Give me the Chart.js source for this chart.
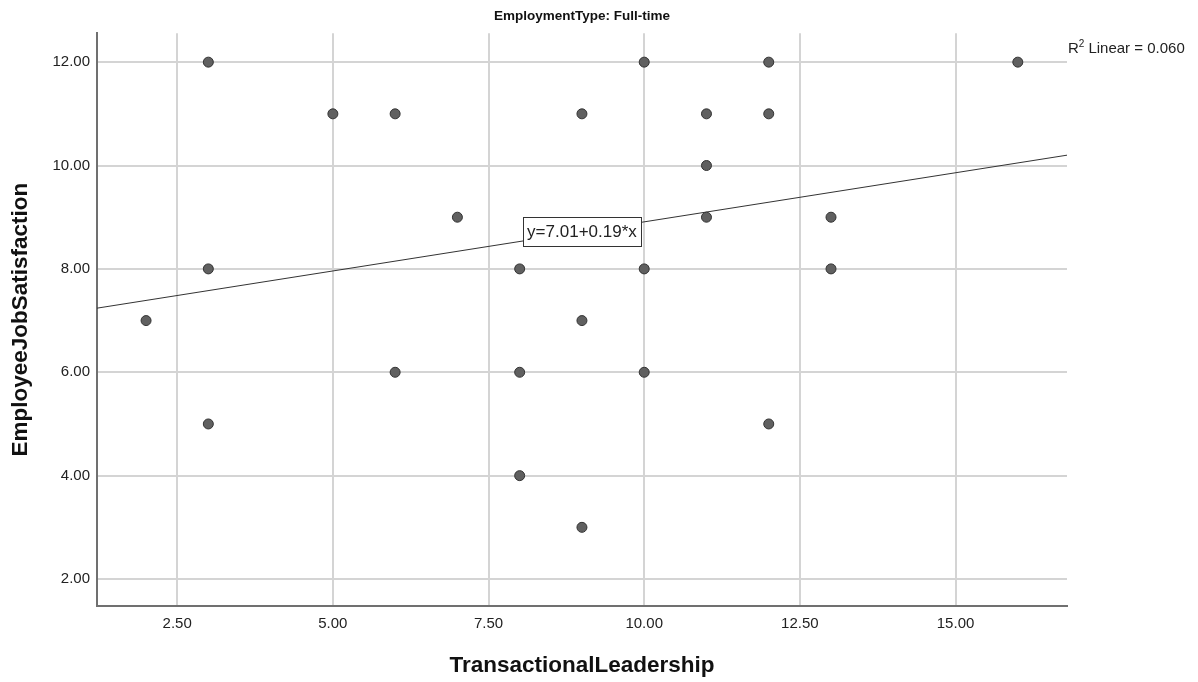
<!DOCTYPE html>
<html>
<head>
<meta charset="utf-8">
<script src="https://cdn.jsdelivr.net/npm/chart.js@4"></script>
<style>
  html, body { margin: 0; padding: 0; background: #fff; }
  #wrap { width: 1198px; height: 682px; }
</style>
</head>
<body>
<div id="wrap"><canvas id="scatter" width="1198" height="682"></canvas></div>
<script>
// leadership score (x) vs job satisfaction (y), full-time employees
const leadership = [3, 5, 6, 7, 3, 2, 3, 6, 8, 8, 8, 9, 9, 9, 10, 10, 10, 11, 11, 11, 12, 12, 12, 13, 13, 16];
const satisfaction = [12, 11, 11, 9, 8, 7, 5, 6, 8, 6, 4, 11, 7, 3, 12, 8, 6, 11, 10, 9, 12, 11, 5, 9, 8, 12];
const xTicks = [2.5, 5, 7.5, 10, 12.5, 15];
const yTicks = [2, 4, 6, 8, 10, 12];
const fitIntercept = 7.01;
const fitSlope = 0.19;
const rSquared = "0.060";
const xMin = 1.212, xMax = 16.79;
const yMin = 1.478, yMax = 12.56;

const points = leadership.map((x, i) => ({ x: x, y: satisfaction[i] }));
const fitLine = [xMin, xMax].map(x => ({ x: x, y: fitIntercept + fitSlope * x }));

const FONT = "'Liberation Sans', Arial, sans-serif";

// equation box on the fit line + R² label at the right
const annotations = {
  id: 'annotations',
  afterDatasetsDraw(chart) {
    const ctx = chart.ctx;
    const xs = chart.scales.x, ys = chart.scales.y;
    const ex = 9.0;
    const cx = xs.getPixelForValue(ex);
    const cy = ys.getPixelForValue(fitIntercept + fitSlope * ex);
    const label = "y=" + fitIntercept.toFixed(2) + "+" + fitSlope.toFixed(2) + "*x";
    ctx.save();
    ctx.font = "17px " + FONT;
    const w = Math.round(ctx.measureText(label).width + 8);
    const h = 29;
    const bx = Math.round(cx - w / 2) + 0.5, by = Math.round(cy - h / 2) + 0.5;
    ctx.fillStyle = "#fff";
    ctx.strokeStyle = "#333";
    ctx.lineWidth = 1;
    ctx.fillRect(bx, by, w, h);
    ctx.strokeRect(bx, by, w, h);
    ctx.fillStyle = "#222";
    ctx.textAlign = "center";
    ctx.textBaseline = "middle";
    ctx.fillText(label, cx, cy + 1);

    // R² Linear label
    const rx = chart.chartArea.right + 1;
    const base = 53;
    ctx.textAlign = "left";
    ctx.textBaseline = "alphabetic";
    ctx.font = "15px " + FONT;
    ctx.fillText("R", rx, base);
    let off = ctx.measureText("R").width;
    ctx.font = "10px " + FONT;
    ctx.fillText("2", rx + off, base - 6);
    off += ctx.measureText("2").width + 4;
    ctx.font = "15px " + FONT;
    ctx.fillText("Linear = " + rSquared, rx + off, base);
    ctx.restore();
  }
};

new Chart(document.getElementById("scatter"), {
  type: 'scatter',
  data: {
    datasets: [{
      type: 'line',
      data: fitLine,
      borderColor: '#333',
      borderWidth: 1,
      pointRadius: 0,
      fill: false,
      order: 2
    }, {
      data: points,
      backgroundColor: '#606060',
      borderColor: '#333',
      borderWidth: 1,
      pointRadius: 5,
      order: 1
    }]
  },
  options: {
    responsive: false,
    animation: false,
    events: [],
    layout: { padding: { left: 0, right: 131, top: 0, bottom: 0 } },
    plugins: {
      legend: { display: false },
      tooltip: { enabled: false },
      title: {
        display: true,
        text: 'EmploymentType: Full-time',
        fullSize: false,
        color: '#111',
        font: { family: FONT, size: 13.5, weight: 'bold' },
        padding: { top: 8, bottom: 9 }
      }
    },
    scales: {
      x: {
        type: 'linear',
        min: xMin,
        max: xMax,
        afterBuildTicks: s => { s.ticks = xTicks.map(v => ({ value: v })); },
        afterFit: s => { s.height = 76; },
        grid: { color: '#d4d4d4', lineWidth: 2, drawTicks: false },
        border: { color: '#707070', width: 2 },
        ticks: {
          color: '#222',
          padding: 9,
          font: { family: FONT, size: 15 },
          callback: v => v.toFixed(2)
        },
        title: {
          display: true,
          text: 'TransactionalLeadership',
          color: '#111',
          font: { family: FONT, size: 22.5, weight: 'bold' },
          padding: { top: 0, bottom: 3 }
        }
      },
      y: {
        type: 'linear',
        min: yMin,
        max: yMax,
        afterBuildTicks: s => { s.ticks = yTicks.map(v => ({ value: v })); },
        afterFit: s => { s.width = 97; },
        grid: { color: '#d4d4d4', lineWidth: 2, drawTicks: false },
        border: { color: '#707070', width: 2 },
        ticks: {
          color: '#222',
          padding: 7,
          font: { family: FONT, size: 15 },
          callback: v => v.toFixed(2)
        },
        title: {
          display: true,
          text: 'EmployeeJobSatisfaction',
          color: '#111',
          font: { family: FONT, size: 22.5, weight: 'bold' },
          padding: { top: 7, bottom: 0 }
        }
      }
    }
  },
  plugins: [annotations]
});
</script>
</body>
</html>
